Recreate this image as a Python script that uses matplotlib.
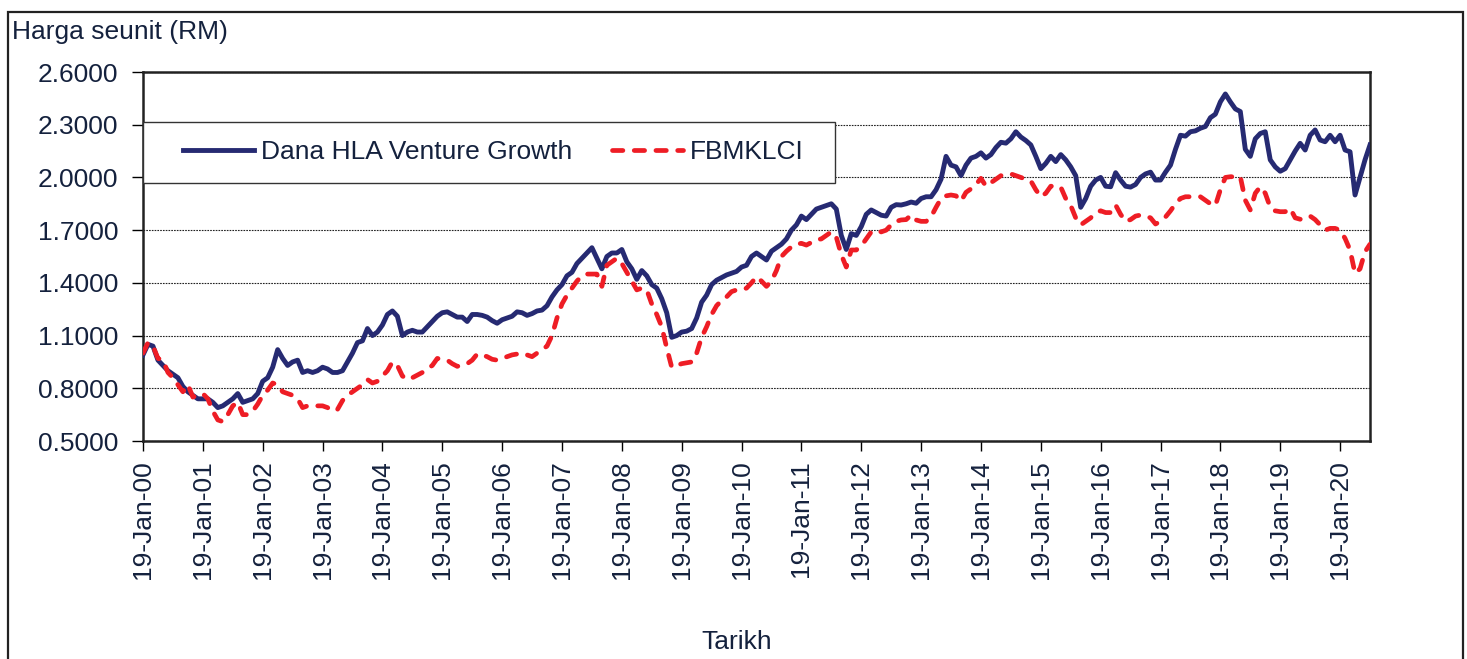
import matplotlib
matplotlib.use("Agg")
import matplotlib.pyplot as plt
from matplotlib.patches import Rectangle
from matplotlib.ticker import FormatStrFormatter

plt.rcParams['font.family'] = ['Liberation Sans', 'DejaVu Sans']

# nilai bulanan, Jan 2000 - Jul 2020
dana = [
    0.99, 1.05, 1.04, 0.96, 0.93, 0.90, 0.88, 0.86, 0.81, 0.78, 0.76, 0.74,
    0.74, 0.74, 0.72, 0.69, 0.70, 0.72, 0.74, 0.77, 0.72, 0.73, 0.74, 0.77,
    0.84, 0.86, 0.92, 1.02, 0.97, 0.93, 0.95, 0.96, 0.89, 0.90, 0.89, 0.90,
    0.92, 0.91, 0.89, 0.89, 0.90, 0.95, 1.00, 1.06, 1.07, 1.14, 1.10, 1.12,
    1.16, 1.22, 1.24, 1.21, 1.10, 1.12, 1.13, 1.12, 1.12, 1.15, 1.18, 1.21,
    1.23, 1.235, 1.22, 1.205, 1.205, 1.18, 1.22, 1.22, 1.215, 1.205, 1.185, 1.17,
    1.19, 1.20, 1.21, 1.235, 1.23, 1.215, 1.225, 1.24, 1.245, 1.27, 1.32, 1.36,
    1.39, 1.44, 1.46, 1.51, 1.54, 1.57, 1.60, 1.54, 1.48, 1.55, 1.57, 1.57,
    1.59, 1.52, 1.48, 1.42, 1.47, 1.44, 1.39, 1.37, 1.31, 1.23, 1.09, 1.10,
    1.12, 1.125, 1.14, 1.20, 1.29, 1.33, 1.39, 1.415, 1.43, 1.445, 1.455, 1.465,
    1.49, 1.50, 1.55, 1.57, 1.55, 1.53, 1.58, 1.60, 1.62, 1.65, 1.70, 1.73,
    1.78, 1.76, 1.79, 1.82, 1.83, 1.84, 1.85, 1.82, 1.67, 1.59, 1.68, 1.67,
    1.72, 1.79, 1.815, 1.80, 1.785, 1.78, 1.83, 1.845, 1.843, 1.85, 1.86, 1.853,
    1.88, 1.89, 1.89, 1.93, 1.99, 2.12, 2.07, 2.06, 2.01, 2.07, 2.11, 2.12,
    2.14, 2.11, 2.13, 2.17, 2.20, 2.195, 2.22, 2.26, 2.23, 2.21, 2.185, 2.12,
    2.05, 2.08, 2.12, 2.09, 2.13, 2.10, 2.06, 2.01, 1.83, 1.88, 1.95, 1.985,
    2.00, 1.95, 1.947, 2.027, 1.985, 1.95, 1.945, 1.96, 2.00, 2.02, 2.03, 1.985,
    1.985, 2.03, 2.07, 2.16, 2.24, 2.235, 2.26, 2.265, 2.28, 2.29, 2.34, 2.36,
    2.43, 2.475, 2.43, 2.39, 2.375, 2.16, 2.12, 2.22, 2.25, 2.26, 2.10, 2.06,
    2.035, 2.05, 2.10, 2.15, 2.194, 2.156, 2.24, 2.27, 2.213, 2.203, 2.24, 2.203,
    2.24, 2.156, 2.146, 1.90, 2.00, 2.10, 2.185,
]
klci = [
    1.00, 1.06, 1.04, 0.97, 0.96, 0.89, 0.86, 0.82, 0.78, 0.82, 0.75, 0.76,
    0.77, 0.74, 0.67, 0.62, 0.61, 0.65, 0.70, 0.72, 0.65, 0.65, 0.67, 0.71,
    0.76, 0.79, 0.83, 0.82, 0.78, 0.77, 0.76, 0.74, 0.69, 0.70, 0.70, 0.70,
    0.70, 0.69, 0.67, 0.68, 0.73, 0.76, 0.78, 0.80, 0.82, 0.85, 0.83, 0.84,
    0.87, 0.90, 0.95, 0.93, 0.87, 0.85, 0.86, 0.875, 0.89, 0.91, 0.93, 0.97,
    0.965, 0.96, 0.94, 0.925, 0.93, 0.94, 0.96, 0.995, 0.99, 0.98, 0.965, 0.96,
    0.97, 0.98, 0.99, 0.995, 1.00, 0.99, 0.98, 1.00, 1.02, 1.04, 1.10, 1.20,
    1.28, 1.33, 1.37, 1.41, 1.44, 1.45, 1.45, 1.45, 1.38, 1.50, 1.52, 1.54,
    1.51, 1.46, 1.41, 1.36, 1.37, 1.36, 1.28, 1.22, 1.15, 1.03, 0.92, 0.93,
    0.94, 0.945, 0.95, 1.00, 1.09, 1.15, 1.22, 1.27, 1.30, 1.32, 1.35, 1.36,
    1.36, 1.37, 1.40, 1.435, 1.41, 1.38, 1.41, 1.47, 1.55, 1.58, 1.605, 1.62,
    1.625, 1.615, 1.63, 1.645, 1.65, 1.67, 1.69, 1.66, 1.56, 1.49, 1.587, 1.587,
    1.61, 1.65, 1.69, 1.70, 1.69, 1.70, 1.73, 1.75, 1.758, 1.76, 1.786, 1.758,
    1.75, 1.75, 1.776, 1.83, 1.88, 1.895, 1.90, 1.895, 1.865, 1.915, 1.935, 1.96,
    1.995, 1.95, 1.97, 1.99, 2.01, 2.015, 2.02, 2.01, 2.00, 1.99, 1.98, 1.93,
    1.89, 1.91, 1.95, 1.95, 1.945, 1.88, 1.84, 1.77, 1.73, 1.75, 1.77, 1.80,
    1.81, 1.80, 1.80, 1.843, 1.79, 1.75, 1.76, 1.78, 1.786, 1.78, 1.77, 1.735,
    1.75, 1.775, 1.81, 1.85, 1.88, 1.89, 1.89, 1.89, 1.89, 1.87, 1.85, 1.84,
    1.93, 2.00, 2.004, 2.004, 2.004, 1.87, 1.815, 1.91, 1.947, 1.91, 1.83, 1.81,
    1.805, 1.805, 1.824, 1.77, 1.762, 1.765, 1.78, 1.76, 1.73, 1.70, 1.71, 1.71,
    1.70, 1.653, 1.587, 1.454, 1.48, 1.577, 1.62,
]
tick_labels = ['19-Jan-%02d' % y for y in range(0, 21)]
y_ticks = [0.5, 0.8, 1.1, 1.4, 1.7, 2.0, 2.3, 2.6]

txt = '#14213d'
x = range(len(dana))

fig = plt.figure(figsize=(14.67, 6.59), dpi=100)
ax = fig.add_axes([143 / 1467, 1 - 441 / 659, 1227 / 1467, 369 / 659])

ax.plot(x, dana, color='#262a72', lw=3.5, solid_joinstyle='round',
        label='Dana HLA Venture Growth', zorder=3)
ax.plot(x, klci, color='#ee1d25', lw=3.4, ls=(0, (2.2, 2.4)),
        dash_capstyle='round', label='FBMKLCI', zorder=3)

ax.set_xlim(0, len(dana) - 1)
ax.set_ylim(0.5, 2.6)
ax.set_yticks(y_ticks)
ax.yaxis.set_major_formatter(FormatStrFormatter('%.4f'))
ax.set_xticks(range(0, len(dana), 12))
ax.set_xticklabels(tick_labels, rotation=90)
ax.tick_params(axis='y', length=8, width=1, pad=10, labelsize=19, labelcolor=txt)
ax.tick_params(axis='x', length=7, width=1, pad=7, labelsize=19, labelcolor=txt)
ax.grid(axis='y', color='#222222', ls=(0, (1.5, 1)), lw=0.8)
for s in ax.spines.values():
    s.set_linewidth(1.8)
    s.set_color('#222222')

# kotak legend
ax.add_patch(Rectangle((0, (441 - 183) / 369), (835 - 143) / 1227, 61 / 369,
                       transform=ax.transAxes, facecolor='white',
                       edgecolor='#333333', lw=1.0, zorder=4, clip_on=False))
leg = ax.legend(loc='center left', bbox_to_anchor=(40 / 1227, (441 - 152) / 369),
                ncol=2, fontsize=19, frameon=False, handlelength=2.7,
                handletextpad=0.25, columnspacing=1.5, borderpad=0,
                borderaxespad=0)
leg.set_zorder(5)
for t in leg.get_texts():
    t.set_color(txt)

fig.text(12 / 1467, 1 - 32 / 659, 'Harga seunit (RM)', fontsize=19,
         color=txt, va='center', ha='left')
fig.text(737 / 1467, 1 - 642 / 659, 'Tarikh', fontsize=19, color=txt,
         va='center', ha='center')

fig.patches.append(Rectangle((8 / 1467, -0.1), 1455 / 1467, 1.1 - 12 / 659,
                             transform=fig.transFigure, fill=False,
                             edgecolor='#222222', lw=1.6, clip_on=False))

fig.savefig('out.png', dpi=100)
